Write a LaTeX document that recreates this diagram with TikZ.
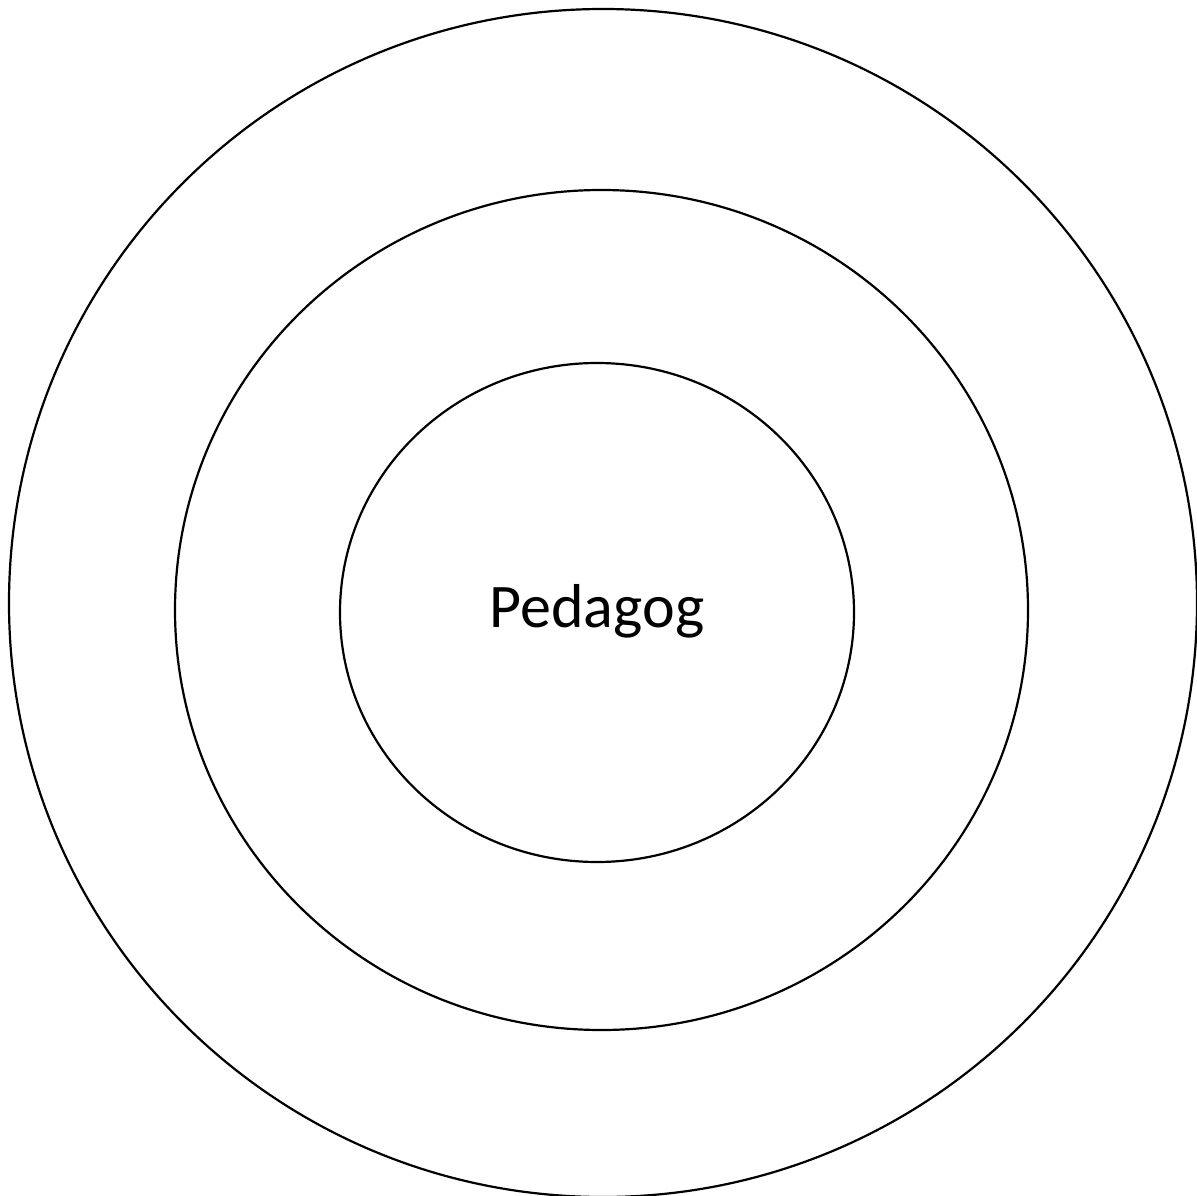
\documentclass[tikz,border=0pt]{standalone}
\usepackage{fontspec}
\setmainfont{Carlito}
\tikzset{ring/.style={draw=black,line width=2.2pt,ellipse}}
\usetikzlibrary{shapes.geometric}
\begin{document}
\begin{tikzpicture}[x=1pt,y=-1pt]
\useasboundingbox (0,0) rectangle (1197,1196);
\fill[white] (0,0) rectangle (1197,1196);
\begin{scope}
\clip (0,0) rectangle (1197,1196);
\node[ring,minimum width=1188pt,minimum height=1188pt,inner sep=0pt] (outer) at (603,603) {};
\node[ring,minimum width=853pt,minimum height=840pt,inner sep=0pt] (middle) at (601.5,610) {};
\node[ring,minimum width=514pt,minimum height=499pt,inner sep=0pt] (inner) at (597,612.5) {};
\end{scope}
\node[font=\fontsize{62}{74}\selectfont,anchor=base,inner sep=0pt] (label) at (597,627) {Pedagog};
\end{tikzpicture}
\end{document}
